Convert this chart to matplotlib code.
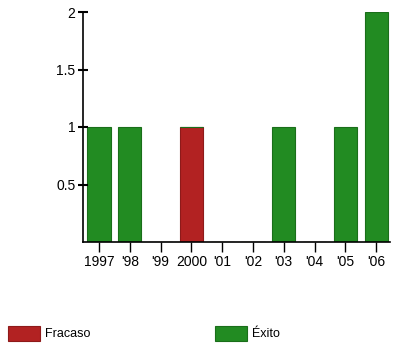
import matplotlib
matplotlib.use('Agg')
import matplotlib.pyplot as plt
from matplotlib.ticker import FuncFormatter

plt.rcParams['font.family'] = ['Liberation Sans', 'DejaVu Sans']

years = ['1997', "'98", "'99", '2000', "'01", "'02", "'03", "'04", "'05", "'06"]
fracaso = [0, 0, 0, 1, 0, 0, 0, 0, 0, 0]
exito = [1, 1, 0, 0, 0, 0, 1, 0, 1, 2]

red = '#b22222'
green = '#228b22'

fig = plt.figure(figsize=(4.1, 3.52), dpi=100)
ax = fig.add_axes([83 / 410, 1 - 242 / 352, 307 / 410, 230 / 352])

x = list(range(len(years)))
ax.bar(x, fracaso, width=0.75, color=red, edgecolor='#8e1a1a', linewidth=0.8, label='Fracaso')
ax.bar(x, exito, width=0.75, bottom=fracaso, color=green, edgecolor='#1a6e1a', linewidth=0.8, label='Éxito')

ax.set_xlim(-0.52, 9.45)
ax.set_ylim(0, 2)
ax.set_xticks(x)
ax.set_xticklabels(years)
ax.set_yticks([0.5, 1, 1.5, 2])
ax.yaxis.set_major_formatter(FuncFormatter(lambda v, p: ('%g' % v)))

for s in ['top', 'right']:
    ax.spines[s].set_visible(False)
ax.spines['left'].set_linewidth(1.2)
ax.spines['bottom'].set_linewidth(1.2)

ax.tick_params(axis='y', direction='inout', length=7, width=1.5, labelsize=10, pad=2)
ax.tick_params(axis='x', direction='out', length=7, width=1, labelsize=10, pad=2)

fig.legend(loc='lower left', bbox_to_anchor=(-0.008, 0.0), ncol=2, frameon=False,
           fontsize=9, handlelength=2.6, handleheight=1.5, columnspacing=9.9,
           handletextpad=0.4)

fig.savefig('out.png', dpi=100)
